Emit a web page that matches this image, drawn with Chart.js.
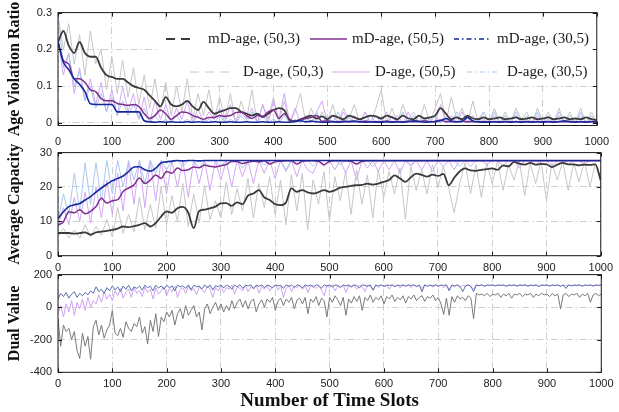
<!DOCTYPE html>
<html lang="en">
<head>
<meta charset="UTF-8">
<title>Age violation, capacity and dual value</title>
<script src="https://cdn.jsdelivr.net/npm/chart.js"></script>
<style>
  * { margin: 0; padding: 0; box-sizing: border-box; }
  body { background: #fff; width: 619px; height: 412px; overflow: hidden; }
  .panel { position: absolute; left: 0; width: 619px; }
  #p1 { top: 0; height: 150px; }
  #p2 { top: 140px; height: 135px; }
  #p3 { top: 262px; height: 150px; }
</style>
</head>
<body>
<div class="panel" id="p1"><canvas id="ageChart"></canvas></div>
<div class="panel" id="p2"><canvas id="capChart"></canvas></div>
<div class="panel" id="p3"><canvas id="dualChart"></canvas></div>
<script>
// ---- data ----
const STEP = 10;      // slot spacing of panels 1 and 2
const STEP_DUAL = 5;  // slot spacing of panel 3

const slotTicks = [0, 100, 200, 300, 400, 500, 600, 700, 800, 900, 1000];
const ageTicks = [0, 0.1, 0.2, 0.3];
const capTicks = [0, 10, 20, 30];
const dualTicks = [-400, -200, 0, 200];

// Age violation ratio
const ageMd503 = [
  0.22, 0.25, 0.21, 0.19, 0.22, 0.19, 0.18, 0.18, 0.15, 0.13,
  0.125, 0.12, 0.12, 0.11, 0.10, 0.095, 0.09, 0.075, 0.06, 0.045,
  0.07, 0.05, 0.045, 0.05, 0.06, 0.045, 0.035, 0.057, 0.04, 0.025,
  0.03, 0.035, 0.04, 0.04, 0.03, 0.025, 0.02, 0.025, 0.016, 0.025,
  0.035, 0.04, 0.035, 0.007, 0.005, 0.01, 0.015, 0.02, 0.012, 0.018,
  0.01, 0.02, 0.015, 0.01, 0.02, 0.015, 0.01, 0.015, 0.02, 0.018,
  0.012, 0.02, 0.015, 0.01, 0.02, 0.012, 0.01, 0.02, 0.012, 0.015,
  0.02, 0.04, 0.025, 0.01, 0.015, 0.01, 0.02, 0.012, 0.01, 0.015,
  0.01, 0.012, 0.015, 0.01, 0.012, 0.015, 0.01, 0.012, 0.015, 0.01,
  0.012, 0.015, 0.01, 0.012, 0.015, 0.01, 0.012, 0.01, 0.015, 0.01, 0.008
];
const ageMd505 = [
  0.22, 0.17, 0.16, 0.12, 0.12, 0.11, 0.09, 0.085, 0.066, 0.06,
  0.06, 0.053, 0.05, 0.048, 0.05, 0.045, 0.025, 0.012, 0.02, 0.035,
  0.025, 0.01, 0.02, 0.03, 0.028, 0.02, 0.015, 0.01, 0.015, 0.015,
  0.02, 0.018, 0.02, 0.028, 0.03, 0.02, 0.012, 0.02, 0.018, 0.03,
  0.035, 0.012, 0.025, 0.01, 0.005, 0.008, 0.012, 0.015, 0.02, 0.004,
  0.006, 0.004, 0.003, 0.005, 0.003, 0.004, 0.003, 0.005, 0.003, 0.004,
  0.003, 0.005, 0.003, 0.004, 0.003, 0.005, 0.003, 0.004, 0.006, 0.003,
  0.004, 0.008, 0.003, 0.004, 0.003, 0.005, 0.003, 0.004, 0.003, 0.004,
  0.003, 0.004, 0.003, 0.004, 0.003, 0.004, 0.003, 0.004, 0.003, 0.004,
  0.003, 0.004, 0.003, 0.004, 0.003, 0.004, 0.003, 0.004, 0.003, 0.004, 0.003
];
const ageMd305 = [
  0.22, 0.165, 0.145, 0.12, 0.105, 0.085, 0.052, 0.05, 0.05, 0.05,
  0.05, 0.03, 0.03, 0.03, 0.03, 0.03, 0.006, 0.003, 0.002, 0.003,
  0.002, 0.003, 0.002, 0.002, 0.003, 0.002, 0.003, 0.002, 0.002, 0.003,
  0.002, 0.002, 0.003, 0.002, 0.002, 0.003, 0.002, 0.002, 0.003, 0.002,
  0.002, 0.003, 0.002, 0.002, 0.004, 0.006, 0.003, 0.005, 0.003, 0.002,
  0.002, 0.003, 0.002, 0.003, 0.004, 0.005, 0.003, 0.002, 0.003, 0.002,
  0.002, 0.003, 0.002, 0.003, 0.002, 0.003, 0.006, 0.004, 0.002, 0.003,
  0.004, 0.006, 0.012, 0.005, 0.003, 0.004, 0.015, 0.005, 0.003, 0.002,
  0.002, 0.003, 0.002, 0.003, 0.002, 0.003, 0.002, 0.003, 0.002, 0.003,
  0.002, 0.003, 0.002, 0.003, 0.006, 0.003, 0.002, 0.003, 0.002, 0.003, 0.002
];
const ageD503 = [
  0.29, 0.2, 0.27, 0.16, 0.24, 0.13, 0.25, 0.16, 0.2, 0.09,
  0.18, 0.08, 0.17, 0.07, 0.15, 0.05, 0.13, 0.04, 0.12, 0.03,
  0.11, 0.02, 0.1, 0.03, 0.12, 0.01, 0.08, 0.02, 0.09, 0.01,
  0.07, 0.01, 0.08, 0.0, 0.06, 0.01, 0.09, 0.0, 0.05, 0.01,
  0.07, 0.0, 0.06, 0.0, 0.03, 0.08, 0.0, 0.04, 0.0, 0.03,
  0.0, 0.05, 0.0, 0.04, 0.01, 0.05, 0.0, 0.03, 0.0, 0.04,
  0.09, 0.0, 0.04, 0.0, 0.05, 0.01, 0.03, 0.0, 0.05, 0.0,
  0.04, 0.08, 0.0, 0.07, 0.01, 0.04, 0.0, 0.06, 0.0, 0.03,
  0.0, 0.04, 0.0, 0.03, 0.0, 0.04, 0.01, 0.03, 0.0, 0.04,
  0.0, 0.03, 0.0, 0.04, 0.0, 0.03, 0.0, 0.04, 0.0, 0.03, 0.0
];
const ageD505 = [
  0.23, 0.13, 0.19, 0.08, 0.15, 0.06, 0.12, 0.05, 0.11, 0.03,
  0.09, 0.02, 0.1, 0.03, 0.08, 0.01, 0.07, 0.0, 0.06, 0.01,
  0.05, 0.0, 0.04, 0.01, 0.06, 0.0, 0.04, 0.0, 0.03, 0.01,
  0.04, 0.0, 0.05, 0.0, 0.03, 0.01, 0.04, 0.0, 0.05, 0.0,
  0.06, 0.01, 0.08, 0.0, 0.04, 0.0, 0.02, 0.0, 0.03, 0.06,
  0.0, 0.02, 0.0, 0.03, 0.0, 0.02, 0.0, 0.03, 0.0, 0.02,
  0.0, 0.03, 0.0, 0.02, 0.0, 0.03, 0.0, 0.02, 0.0, 0.01,
  0.0, 0.05, 0.0, 0.02, 0.0, 0.03, 0.0, 0.02, 0.0, 0.01,
  0.0, 0.02, 0.0, 0.01, 0.0, 0.02, 0.0, 0.01, 0.0, 0.02,
  0.0, 0.01, 0.0, 0.02, 0.0, 0.01, 0.0, 0.02, 0.0, 0.01, 0.0
];
const ageD305 = [
  0.3, 0.15, 0.19, 0.1, 0.14, 0.06, 0.1, 0.04, 0.08, 0.03,
  0.07, 0.02, 0.06, 0.02, 0.05, 0.01, 0.04, 0.0, 0.02, 0.0,
  0.01, 0.0, 0.02, 0.0, 0.01, 0.0, 0.02, 0.0, 0.01, 0.0,
  0.02, 0.0, 0.01, 0.0, 0.02, 0.0, 0.03, 0.0, 0.02, 0.0,
  0.01, 0.0, 0.02, 0.0, 0.01, 0.0, 0.02, 0.0, 0.03, 0.0,
  0.02, 0.0, 0.03, 0.0, 0.02, 0.0, 0.01, 0.0, 0.02, 0.0,
  0.01, 0.0, 0.02, 0.0, 0.03, 0.0, 0.02, 0.0, 0.01, 0.0,
  0.02, 0.0, 0.01, 0.0, 0.03, 0.0, 0.02, 0.0, 0.01, 0.03,
  0.0, 0.03, 0.0, 0.02, 0.0, 0.03, 0.0, 0.02, 0.0, 0.03,
  0.0, 0.02, 0.0, 0.03, 0.0, 0.02, 0.0, 0.03, 0.0, 0.02, 0.0
];

// Average capacity
const capMd503 = [
  6.6, 6.6, 6.6, 6.4, 6.6, 6.8, 6.1, 6.8, 7.0, 7.2,
  7.5, 7.9, 8.5, 8.3, 8.6, 9.0, 9.5, 8.5, 9.5, 11.4,
  12.9, 12.5, 13.8, 14.2, 12.5, 8.0, 13.0, 13.4, 13.8, 14.3,
  15.2, 15.3, 14.5, 15.5, 15.0, 17.5, 18.1, 19.1, 17.0, 16.2,
  15.0, 14.7, 15.5, 19.6, 18.6, 19.1, 18.4, 18.1, 18.5, 19.1,
  18.6, 19.0, 19.8, 20.0, 20.3, 20.5, 20.6, 21.0, 20.7, 21.0,
  21.5, 22.0, 23.4, 22.5, 21.5, 22.8, 23.9, 23.5, 23.0, 23.6,
  23.2, 23.8, 20.5, 22.7, 24.5, 25.4, 24.8, 24.7, 25.0, 25.2,
  25.4, 25.0, 26.3, 26.0, 27.3, 26.8, 26.5, 27.0, 26.5, 26.7,
  26.6, 25.8, 26.5, 27.0, 26.6, 26.6, 26.3, 26.5, 26.4, 26.6, 22.0
];
const capMd505 = [
  8.9, 9.9, 12.8, 12.5, 13.4, 12.2, 12.9, 14.3, 16.7, 15.3,
  16.0, 16.3, 18.7, 19.7, 20.6, 22.6, 21.0, 22.0, 23.5, 22.5,
  24.5, 24.0, 25.5, 24.8, 25.0, 25.8, 25.6, 26.4, 26.0, 25.8,
  26.2, 26.5, 27.4, 27.4, 26.8, 27.2, 27.5, 27.3, 27.6, 26.7,
  27.3, 27.5, 27.6, 27.6, 26.7, 27.5, 27.6, 27.6, 27.5, 26.5,
  27.4, 27.6, 27.6, 27.6, 27.5, 26.7, 27.5, 27.6, 27.6, 27.6,
  27.6, 27.6, 27.6, 27.6, 27.6, 27.6, 27.6, 27.6, 27.6, 27.6,
  27.6, 27.6, 27.6, 27.6, 27.6, 27.6, 27.6, 27.6, 27.6, 27.6,
  27.6, 27.6, 27.6, 27.6, 27.6, 27.6, 27.6, 27.6, 27.6, 27.6,
  27.6, 27.6, 27.6, 27.6, 27.6, 27.6, 27.6, 27.6, 27.6, 27.6, 27.6
];
const capMd305 = [
  10.8, 12.8, 14.3, 14.8, 15.2, 16.2, 17.2, 18.5, 19.7, 20.8,
  21.8, 22.5, 23.2, 24.5, 25.8, 25.9, 25.0, 24.6, 25.5, 27.0,
  27.3, 27.5, 27.7, 27.6, 27.7, 27.7, 27.6, 27.7, 27.7, 27.7,
  27.7, 27.7, 27.7, 27.7, 27.7, 27.7, 27.7, 27.7, 27.7, 27.7,
  27.7, 27.7, 27.7, 27.7, 27.7, 27.7, 27.7, 27.7, 27.7, 27.7,
  27.7, 27.7, 27.7, 27.7, 27.7, 27.7, 27.7, 27.7, 27.7, 27.7,
  27.7, 27.7, 27.7, 27.7, 27.7, 27.7, 27.7, 27.7, 27.7, 27.7,
  27.7, 27.7, 27.7, 27.7, 27.7, 27.7, 27.7, 27.7, 27.7, 27.7,
  27.7, 27.7, 27.7, 27.7, 27.7, 27.7, 27.7, 27.7, 27.7, 27.7,
  27.7, 27.7, 27.7, 27.7, 27.7, 27.7, 27.7, 27.7, 27.7, 27.7, 27.7
];
const capD503 = [
  5.5, 8.0, 5.2, 7.5, 5.0, 9.0, 5.5, 8.5, 6.0, 10.5,
  5.5, 14.0, 6.5, 12.0, 7.0, 17.0, 7.5, 15.0, 8.0, 20.0,
  9.0, 17.5, 10.0, 21.0, 8.5, 18.0, 9.5, 20.5, 10.5, 16.0,
  11.0, 21.5, 12.0, 19.5, 13.0, 22.5, 11.0, 21.0, 14.0, 23.0,
  12.0, 22.0, 9.0, 23.5, 13.0, 24.0, 7.5, 22.0, 15.0, 24.5,
  10.0, 23.0, 16.0, 24.5, 12.0, 25.0, 15.0, 23.5, 11.0, 25.0,
  17.0, 24.5, 18.0, 25.5, 10.5, 26.0, 19.0, 25.0, 18.0, 26.5,
  20.0, 26.0, 19.5, 12.5, 21.0, 27.0, 18.0, 26.5, 17.0, 27.0,
  21.0, 27.5, 19.0, 26.5, 22.0, 27.5, 17.5, 27.0, 21.0, 27.5,
  16.0, 27.0, 22.0, 27.5, 19.0, 27.0, 21.5, 27.5, 20.0, 27.0, 21.0
];
const capD505 = [
  8.5, 14.0, 9.0, 17.0, 10.0, 18.5, 9.5, 20.0, 11.0, 22.0,
  12.0, 24.0, 13.0, 27.0, 15.0, 27.7, 14.0, 27.7, 16.0, 27.7,
  18.0, 27.7, 20.0, 27.7, 17.0, 27.7, 21.0, 27.7, 19.0, 27.7,
  22.0, 27.7, 20.0, 27.7, 23.0, 27.7, 21.0, 27.7, 24.0, 27.7,
  22.5, 27.7, 24.5, 27.7, 23.0, 27.7, 25.0, 24.0, 27.7, 26.0,
  27.7, 25.0, 27.7, 24.0, 27.7, 22.0, 27.7, 25.5, 27.7, 24.5,
  27.7, 25.0, 27.7, 24.0, 27.7, 26.0, 27.7, 25.0, 27.7, 24.5,
  27.7, 26.0, 27.7, 25.0, 27.7, 27.7, 26.0, 27.7, 27.7, 26.5,
  27.7, 27.7, 26.0, 27.7, 27.7, 25.5, 27.7, 27.7, 26.5, 27.7,
  27.7, 26.0, 27.7, 27.7, 26.5, 27.7, 27.7, 26.5, 27.7, 27.7, 27.7
];
const capD305 = [
  10.0, 18.0, 12.0, 24.0, 13.0, 27.0, 15.0, 27.0, 16.0, 27.7,
  18.0, 27.7, 20.0, 27.7, 22.0, 27.7, 21.0, 27.7, 24.0, 27.7,
  25.0, 27.7, 27.7, 26.0, 27.7, 27.7, 25.5, 27.7, 27.7, 27.7,
  26.0, 27.7, 27.7, 27.7, 25.5, 27.7, 27.7, 27.7, 26.5, 27.7,
  27.7, 27.7, 25.0, 27.7, 27.7, 27.7, 27.7, 26.0, 27.7, 27.7,
  27.7, 27.7, 26.5, 27.7, 27.7, 27.7, 27.7, 27.7, 26.0, 27.7,
  27.7, 27.7, 27.7, 27.7, 27.7, 26.5, 27.7, 27.7, 27.7, 27.7,
  27.7, 27.7, 27.7, 27.7, 26.0, 27.7, 27.7, 27.7, 27.7, 27.7,
  27.7, 27.7, 27.7, 27.7, 27.7, 27.7, 27.7, 27.7, 27.7, 27.7,
  27.7, 27.7, 27.7, 27.7, 27.7, 27.7, 27.7, 27.7, 27.7, 27.7, 27.7
];

// Dual value
const dual305 = [
  50, 85, 65, 90, 55, 80, 95, 60, 85, 70,
  90, 75, 100, 85, 125, 95, 110, 85, 120, 100,
  130, 105, 125, 95, 130, 110, 135, 100, 125, 115,
  130, 105, 135, 120, 128, 100, 135, 118, 130, 110,
  135, 120, 130, 100, 135, 125, 132, 115, 137, 108,
  135, 125, 130, 112, 137, 120, 135, 105, 133, 125,
  137, 118, 135, 128, 110, 136, 125, 137, 115, 135,
  130, 137, 112, 135, 128, 137, 120, 136, 130, 118,
  137, 130, 135, 115, 137, 128, 136, 120, 137, 132,
  118, 137, 130, 136, 122, 137, 133, 117, 137, 130,
  136, 125, 137, 133, 120, 137, 130, 136, 127, 137,
  132, 118, 137, 134, 128, 137, 104, 136, 130, 137,
  127, 136, 133, 137, 125, 136, 131, 137, 128, 136,
  133, 137, 126, 136, 95, 137, 128, 136, 130, 137,
  128, 136, 133, 137, 100, 136, 130, 137, 126, 95,
  130, 137, 128, 95, 136, 133, 137, 129, 136, 134,
  137, 131, 136, 134, 137, 128, 136, 133, 137, 130,
  136, 134, 137, 129, 136, 133, 137, 126, 136, 134,
  137, 130, 136, 133, 137, 128, 136, 115, 137, 131,
  136, 134, 137, 129, 136, 133, 137, 130, 136, 134, 137
];
const dual505 = [
  -40, 10, -60, 20, -30, 40, -50, 30, -10, 50,
  -20, 60, 0, 40, 20, 75, 30, 95, 50, 80,
  40, 100, 70, 115, 55, 95, 110, 60, 120, 85,
  105, 65, 125, 90, 110, 50, 120, 80, 100, 125,
  70, 115, 95, 130, 60, 110, 120, 85, 130, 100,
  115, 75, 125, 105, 90, 130, 110, 60, 120, 100,
  130, 90, 120, 110, 135, 80, 125, 115, 100, 132,
  95, 125, 118, 135, 85, 128, 110, 133, 100, 125,
  135, 105, 128, 60, 115, 133, 95, 130, 120, 135,
  110, 132, 90, 128, 135, 115, 130, 105, 70, 133,
  120, 135, 100, 130, 125, 135, 90, 132, 120, 136,
  110, 134, 125, 95, 136, 128, 105, 135, 120, 136,
  125, 134, 110, 136, 128, 135, 118, 136, 130, 135,
  120, 136, 130, 135, 115, 136, 128, 135, 124, 136,
  130, 135, 118, 136, 110, 134, 128, 136, 122, 135,
  130, 136, 125, 112, 136, 130, 135, 128, 136, 132,
  135, 130, 136, 133, 135, 129, 136, 132, 135, 130,
  136, 133, 135, 128, 136, 131, 135, 129, 136, 133,
  135, 130, 136, 132, 135, 128, 136, 131, 135, 130,
  136, 133, 135, 129, 136, 132, 135, 130, 136, 133, 135
];
const dual503 = [
  -70, -240, -110, -150, -130, -200, -150, -265, -315, -160,
  -240, -180, -320, -120, -80, -170, -110, -190, -140, -110,
  -20, -160, -175, -130, -185, -90, -130, -150, -100, -120,
  -60, -160, -120, -225, -80, -150, -40, -180, -60, -90,
  -30, -60, -20, -110, -40, -10, -70, 10, -50, -20,
  10, -60, -30, -140, -10, 20, -40, 0, 30, -20,
  20, -30, 10, -20, 40, -10, 30, 50, 0, 40,
  -10, 35, 50, -30, 20, 45, 0, 50, 30, 60,
  -20, 40, 55, 10, 50, 30, 60, -10, 45, 55,
  20, 60, -40, 50, 30, 65, 10, 55, 40, -60,
  60, 30, 70, 45, 10, 60, -50, 50, 25, 65,
  35, 70, -20, 60, 40, 75, 30, 60, 45, 70,
  20, 65, 50, 75, 35, 60, 45, 70, 25, 65,
  50, 75, 40, 60, 70, 35, 65, 55, 75, 40,
  60, 20, -45, 55, -50, 65, 30, 70, 50, 60,
  40, 70, 55, -70, 85, 75, 80, 70, 85, 65,
  80, 75, 85, 60, 80, 70, 85, 55, 80, 75,
  85, 65, 80, 75, 85, 60, 80, 70, 85, 75,
  80, 65, 85, 70, 80, -10, 75, 85, 65, 80,
  75, 85, 60, 80, 70, 85, 30, 75, 85, 70, 80
];

// ---- helpers ----
const toXY = (vals, step) => vals.map((v, i) => ({ x: i * step, y: v }));

function series(label, vals, step, color, width, legendDash, smooth) {
  return {
    label: label,
    data: toXY(vals, step),
    borderColor: color,
    borderWidth: width,
    pointRadius: 0,
    fill: false,
    tension: smooth ? 0.4 : 0,
    cubicInterpolationMode: smooth ? 'monotone' : 'default',
    legendDash: legendDash || []
  };
}

const tickFont = { family: 'Liberation Sans', size: 11 };
const titleFont = { family: 'Liberation Serif', size: 16, weight: 'bold' };
const gridColor = '#c2c2c2';
const gridDash = [7, 3, 1.5, 3];

// box around the axes with inward tick marks, plus the in-plot legend
const framePlugin = {
  id: 'frame',
  beforeDatasetsDraw(chart) {
    const cfg = chart.options.plugins.rowLegend;
    if (!cfg || !cfg.mask) return;
    const m = cfg.mask;
    chart.ctx.save();
    chart.ctx.fillStyle = '#fff';
    chart.ctx.fillRect(m.x, m.y, m.w, m.h);
    chart.ctx.restore();
  },
  afterDraw(chart) {
    const { ctx, chartArea: a, scales } = chart;
    ctx.save();
    ctx.strokeStyle = '#1a1a1a';
    ctx.lineWidth = 1;
    ctx.strokeRect(a.left, a.top, a.right - a.left, a.bottom - a.top);
    ctx.beginPath();
    scales.x.ticks.forEach(t => {
      const px = Math.round(scales.x.getPixelForValue(t.value)) + 0.5;
      ctx.moveTo(px, a.bottom); ctx.lineTo(px, a.bottom - 4);
      ctx.moveTo(px, a.top); ctx.lineTo(px, a.top + 4);
    });
    scales.y.ticks.forEach(t => {
      const py = Math.round(scales.y.getPixelForValue(t.value)) + 0.5;
      ctx.moveTo(a.left, py); ctx.lineTo(a.left + 4, py);
      ctx.moveTo(a.right, py); ctx.lineTo(a.right - 4, py);
    });
    ctx.stroke();

    const cfg = chart.options.plugins.rowLegend;
    if (cfg && cfg.items) {
      ctx.font = cfg.font;
      ctx.textBaseline = 'middle';
      ctx.fillStyle = '#1a1a1a';
      cfg.items.forEach(it => {
        const ds = chart.data.datasets[it.ds];
        ctx.strokeStyle = ds.borderColor;
        ctx.lineWidth = it.w;
        ctx.setLineDash(ds.legendDash);
        ctx.beginPath();
        ctx.moveTo(it.x0, it.y); ctx.lineTo(it.x1, it.y);
        ctx.stroke();
        ctx.setLineDash([]);
        ctx.fillText(ds.label, it.tx, it.y);
      });
    }
    ctx.restore();
  }
};

function panelOptions(cfg) {
  return {
    responsive: true,
    maintainAspectRatio: false,
    animation: false,
    layout: { padding: { left: 0, right: 14, top: 12, bottom: 0 } },
    plugins: {
      legend: { display: false },
      tooltip: { enabled: false },
      rowLegend: cfg.legend || null
    },
    scales: {
      x: {
        type: 'linear', min: 0, max: 1000,
        afterBuildTicks: s => { s.ticks = slotTicks.map(v => ({ value: v })); },
        afterFit: s => { s.height = cfg.xHeight; },
        ticks: { font: tickFont, color: '#222', padding: cfg.xPad, maxRotation: 0, autoSkip: false, callback: v => String(v) },
        grid: { color: gridColor, lineWidth: 0.8, drawTicks: false },
        border: { display: false, dash: gridDash },
        title: cfg.xTitle
          ? { display: true, text: cfg.xTitle, font: { family: 'Liberation Serif', size: 19, weight: 'bold' }, color: '#111', padding: { top: 0, bottom: 0 } }
          : { display: false }
      },
      y: {
        min: cfg.yMin, max: cfg.yMax,
        afterBuildTicks: s => { s.ticks = cfg.yTicks.map(v => ({ value: v })); },
        afterFit: s => { s.width = 58; },
        ticks: { font: cfg.yFont || tickFont, color: '#222', padding: 6, callback: v => String(v) },
        grid: { color: gridColor, lineWidth: 0.8, drawTicks: false },
        border: { display: false, dash: gridDash },
        title: { display: true, text: cfg.yTitle, font: titleFont, color: '#111', padding: { top: 5, bottom: 0 } }
      }
    }
  };
}

// ---- panel 1: age violation ratio ----
new Chart(document.getElementById('ageChart'), {
  type: 'line',
  data: {
    datasets: [
      series('mD-age, (30,5)', ageMd305, STEP, '#14289a', 1.6, [5, 3, 1.5, 3], true),
      series('mD-age, (50,5)', ageMd505, STEP, '#7e2f8e', 1.5, [], true),
      series('mD-age, (50,3)', ageMd503, STEP, '#3a3a3a', 1.8, [9, 6], true),
      series('D-age, (30,5)', ageD305, STEP, '#a9c8ef', 1, [5, 3, 1.5, 3]),
      series('D-age, (50,5)', ageD505, STEP, '#d4a6f7', 1, []),
      series('D-age, (50,3)', ageD503, STEP, '#c6c6c6', 1, [9, 6])
    ]
  },
  options: panelOptions({
    yMin: -0.007, yMax: 0.3, yTicks: ageTicks, yTitle: 'Age Violation Ratio',
    xHeight: 24.5, xPad: 10,
    legend: {
      font: '15px "Liberation Serif"',
      mask: { x: 158, y: 20, w: 444, h: 64 },
      items: [
        { ds: 2, x0: 166, x1: 195, tx: 208, y: 39, w: 1.8 },
        { ds: 1, x0: 310, x1: 347, tx: 352, y: 39, w: 1.5 },
        { ds: 0, x0: 454, x1: 490, tx: 497, y: 39, w: 1.5 },
        { ds: 5, x0: 190, x1: 230, tx: 243, y: 72, w: 1 },
        { ds: 4, x0: 332, x1: 370, tx: 375, y: 72, w: 1 },
        { ds: 3, x0: 467, x1: 500, tx: 507, y: 72, w: 1 }
      ]
    }
  }),
  plugins: [framePlugin]
});

// ---- panel 2: average capacity ----
new Chart(document.getElementById('capChart'), {
  type: 'line',
  data: {
    datasets: [
      series('mD-age, (30,5)', capMd305, STEP, '#14289a', 1.6, null, true),
      series('mD-age, (50,5)', capMd505, STEP, '#7e2f8e', 1.5, null, true),
      series('mD-age, (50,3)', capMd503, STEP, '#3a3a3a', 1.8, null, true),
      series('D-age, (30,5)', capD305, STEP, '#a9c8ef', 1),
      series('D-age, (50,5)', capD505, STEP, '#d4a6f7', 1),
      series('D-age, (50,3)', capD503, STEP, '#c6c6c6', 1)
    ]
  },
  options: panelOptions({
    yMin: 0, yMax: 30, yTicks: capTicks, yTitle: 'Average Capacity',
    xHeight: 19.3, xPad: 6
  }),
  plugins: [framePlugin]
});

// ---- panel 3: dual value ----
new Chart(document.getElementById('dualChart'), {
  type: 'line',
  data: {
    datasets: [
      series('(30,5)', dual305, STEP_DUAL, '#5a70a8', 1),
      series('(50,5)', dual505, STEP_DUAL, '#cfa2f2', 1),
      series('(50,3)', dual503, STEP_DUAL, '#7a7a7a', 1)
    ]
  },
  options: panelOptions({
    yMin: -400, yMax: 200, yTicks: dualTicks, yTitle: 'Dual Value',
    xHeight: 39.7, xPad: 5.5, xTitle: 'Number of Time Slots'
  }),
  plugins: [framePlugin]
});
</script>
</body>
</html>
